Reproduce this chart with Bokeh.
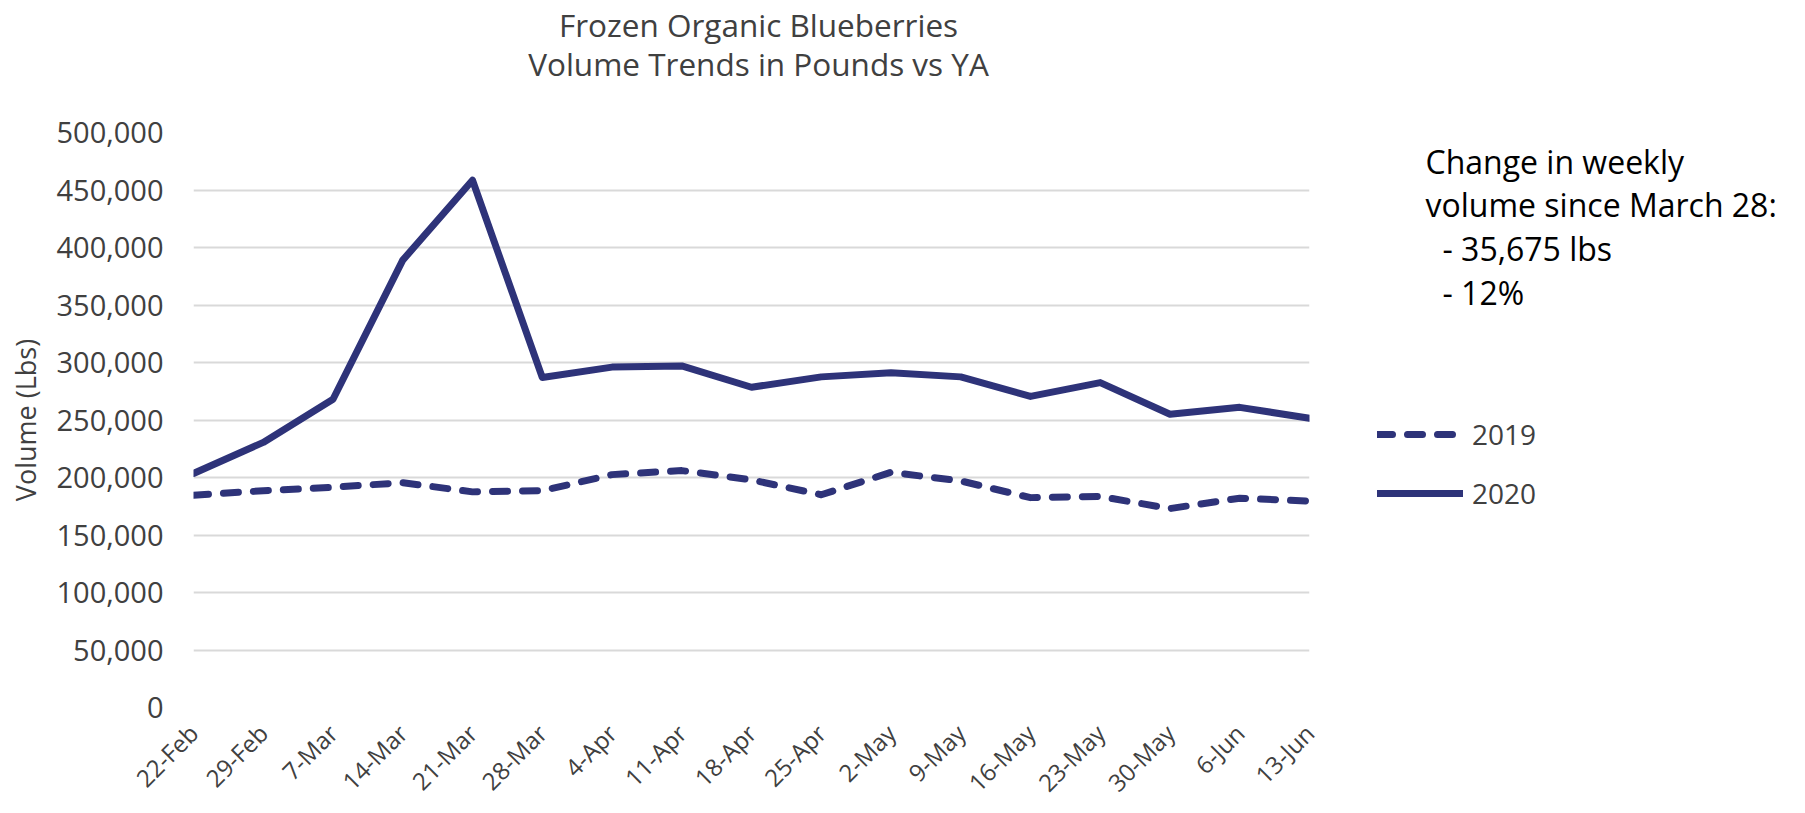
from bokeh.plotting import figure
from bokeh.layouts import row, column
from bokeh.models import (Range1d, FixedTicker, NumeralTickFormatter, Label,
                          Legend, LegendItem, ColumnDataSource)
from bokeh.embed import file_html
from bokeh.resources import INLINE
import math

# ---------------- data ----------------
weeks = ["22-Feb", "29-Feb", "7-Mar", "14-Mar", "21-Mar", "28-Mar", "4-Apr",
         "11-Apr", "18-Apr", "25-Apr", "2-May", "9-May", "16-May", "23-May",
         "30-May", "6-Jun", "13-Jun"]
vol_2019 = [184500, 188500, 191500, 195500, 187500, 188500, 202500, 206000,
            198000, 185000, 204500, 197000, 182500, 183500, 173000, 182000, 179500]
vol_2020 = [203500, 230500, 268000, 389000, 458500, 287000, 296000, 297000,
            278500, 287500, 291000, 287500, 270500, 282500, 255000, 261000, 251500]
y_ticks = [0, 50000, 100000, 150000, 200000, 250000, 300000, 350000, 400000,
           450000, 500000]
title_lines = ["Frozen Organic Blueberries", "Volume Trends in Pounds vs YA"]
note_lines = ["Change in weekly", "volume since March 28:", "- 35,675 lbs", "- 12%"]
series_names = ["2019", "2020"]

# ---------------- layout (page pixels) ----------------
W, H = 1800, 812
TH = 100                       # title strip height
MW = 1329                      # main figure width
MH = H - TH
SW = W - MW
PL, PR, PT, PB = 193, 1309, 132, 711     # plot frame on the page
FT, FB = PT - TH, PB - TH                # frame top/bottom inside main fig
YMAX = y_ticks[-1]
NX = len(weeks) - 1
FONT = "Open Sans"
NAVY = "#2E3379"
GREY = "#404040"
LW = 7
DASH = "15 15"

# ---- title strip ----
tf = figure(width=W, height=TH, output_backend="svg", toolbar_location=None,
            x_range=Range1d(0, W), y_range=Range1d(TH, 0),
            x_axis_type=None, y_axis_type=None, min_border=0)
tf.outline_line_color = None
tf.xgrid.visible = False
tf.ygrid.visible = False
for i, t in enumerate(title_lines):
    tf.add_layout(Label(x=758, y=24 + 39 * i, text=t, text_align="center",
                        text_baseline="middle", text_font=FONT,
                        text_font_size="31.5px", text_color=GREY))

# ---- main chart ----
p = figure(width=MW, height=MH, output_backend="svg", toolbar_location=None,
           x_range=Range1d(0, NX), y_range=Range1d(0, YMAX),
           min_border_left=PL, min_border_right=MW - PR,
           min_border_top=FT, min_border_bottom=MH - FB)
p.outline_line_color = None

xs = list(range(len(weeks)))
src = ColumnDataSource(dict(x=xs, y19=vol_2019, y20=vol_2020))
p.line("x", "y19", source=src, line_color=NAVY, line_width=LW,
       line_dash=DASH, line_cap="round", line_join="round")
p.line("x", "y20", source=src, line_color=NAVY, line_width=LW,
       line_cap="round", line_join="round")

p.xaxis.ticker = FixedTicker(ticks=xs)
p.xaxis.major_label_overrides = {i: w for i, w in enumerate(weeks)}
p.xaxis.major_label_orientation = math.pi / 4
p.xaxis.major_label_standoff = 21
p.yaxis.ticker = FixedTicker(ticks=y_ticks)
p.yaxis.formatter = NumeralTickFormatter(format="0,0")
p.yaxis.major_label_standoff = 30
for ax in (p.xaxis, p.yaxis):
    ax.axis_line_color = None
    ax.major_tick_line_color = None
    ax.minor_tick_line_color = None
    ax.major_tick_out = 0
    ax.major_tick_in = 0
    ax.major_label_text_font = FONT
    ax.major_label_text_color = GREY
p.yaxis.major_label_text_font_size = "29px"
p.xaxis.major_label_text_font_size = "24px"
p.yaxis.axis_label = "Volume (Lbs)"
p.yaxis.axis_label_text_font = FONT
p.yaxis.axis_label_text_font_size = "27px"
p.yaxis.axis_label_text_font_style = "normal"
p.yaxis.axis_label_text_color = GREY
p.yaxis.axis_label_standoff = 10
p.xgrid.grid_line_color = None
p.ygrid.grid_line_color = "#D9D9D9"
p.ygrid.grid_line_width = 2

# ---- side panel: note + legend (frame aligned with the chart frame) ----
sf = figure(width=SW, height=MH, output_backend="svg", toolbar_location=None,
            x_range=Range1d(MW, W), y_range=Range1d(PB, PT),
            x_axis_type=None, y_axis_type=None,
            min_border_left=0, min_border_right=0,
            min_border_top=FT, min_border_bottom=MH - FB)
sf.outline_line_color = None
sf.xgrid.visible = False
sf.ygrid.visible = False
note_x = [1425, 1425, 1442, 1442]
note_base = [161, 205, 249, 293]
for t, nx, nb in zip(note_lines, note_x, note_base):
    sf.add_layout(Label(x=nx, y=nb, text=t, text_align="left",
                        text_baseline="alphabetic", text_font=FONT,
                        text_font_size="32px", text_color="black"))
nan = float("nan")
key_src = ColumnDataSource(dict(x=[nan], y=[nan]))
k19 = sf.line("x", "y", source=key_src, line_color=NAVY, line_width=LW,
              line_dash=DASH, line_cap="round")
k20 = sf.line("x", "y", source=key_src, line_color=NAVY, line_width=LW,
              line_cap="round")
legend = Legend(items=[LegendItem(label=series_names[0], renderers=[k19]),
                       LegendItem(label=series_names[1], renderers=[k20])],
                location=(1377 - MW, PB - 519), orientation="vertical",
                padding=0, margin=0, spacing=15,
                glyph_width=86, glyph_height=44, label_height=44,
                label_standoff=9, border_line_color=None,
                background_fill_alpha=0,
                label_text_font=FONT, label_text_font_size="28px",
                label_text_color=GREY)
sf.add_layout(legend, "center")

layout = column(tf, row(p, sf))
open("out.html", "w").write(file_html(layout, INLINE))
